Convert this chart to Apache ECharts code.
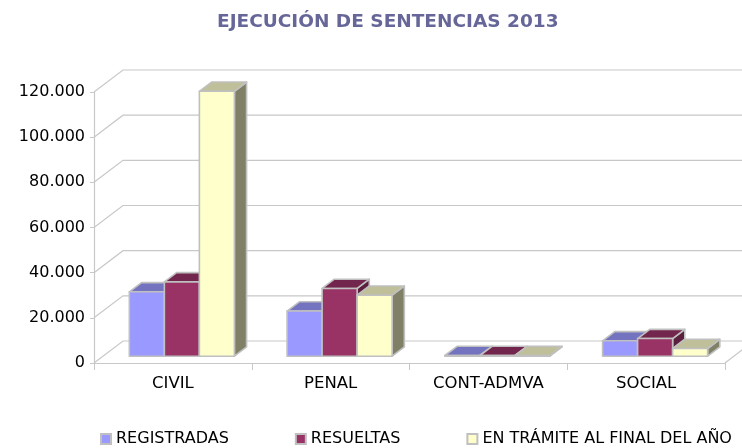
<!DOCTYPE html>
<html>
<head>
<meta charset="utf-8">
<script src="https://cdn.jsdelivr.net/npm/echarts@6/dist/echarts.min.js"></script>
<style>
  html, body { margin: 0; padding: 0; background: #fff; }
  #chart { width: 742px; height: 448px; }
</style>
</head>
<body>
<div id="chart"></div>
<script>
// datos
var categorias = ['CIVIL', 'PENAL', 'CONT-ADMVA', 'SOCIAL'];
var registradas = [28500, 20000, 300, 6800];
var resueltas = [32900, 30000, 300, 7800];
var enTramite = [117300, 27000, 250, 3400];
var yTicks = [0, 20000, 40000, 60000, 80000, 100000, 120000];

// profundidad del "3D"
var DX = 29, DY = -22;
var FRONT = 0.31;   // donde empieza la cara frontal de las barras
var DEPTH = 0.42;   // fondo de cada barra

var caras = [
    { front: '#9999FF', top: '#7373BF', side: '#4D4D80' },
    { front: '#993366', top: '#73264D', side: '#5C1F3D' },
    { front: '#FFFFCC', top: '#BFBF99', side: '#808066' }
];

function miles(v) {
    return String(v).replace(/\B(?=(\d{3})+(?!\d))/g, '.');
}

function barra(serieIdx) {
    return function (params, api) {
        var idx = api.value(0);
        var base = api.coord([idx, 0]);
        var top = api.coord([idx, api.value(1)]);
        var band = api.size([1, 0])[0];
        var w = band * 0.222;
        var fx = DX * FRONT, fy = DY * FRONT;
        var dx = DX * DEPTH, dy = DY * DEPTH;
        var x = base[0] + fx + (serieIdx - 1.5) * w;
        var yb = base[1] + fy;
        var yt = top[1] + fy;
        var c = caras[serieIdx];
        var borde = { stroke: '#C0C0C0', lineWidth: 1.6, lineJoin: 'round' };
        return {
            type: 'group',
            children: [
                {
                    type: 'polygon',
                    shape: { points: [[x + w, yt], [x + w + dx, yt + dy], [x + w + dx, yb + dy], [x + w, yb]] },
                    style: Object.assign({ fill: c.side }, borde)
                },
                {
                    type: 'polygon',
                    shape: { points: [[x, yt], [x + w, yt], [x + w + dx, yt + dy], [x + dx, yt + dy]] },
                    style: Object.assign({ fill: c.top }, borde)
                },
                {
                    type: 'rect',
                    shape: { x: x, y: yt, width: w, height: yb - yt },
                    style: Object.assign({ fill: c.front }, borde)
                }
            ]
        };
    };
}

// paredes y suelo
function pared(params, api) {
    var v = api.value(0);
    var x0 = params.coordSys.x;
    var x1 = x0 + params.coordSys.width;
    var y = api.coord([0, v])[1];
    var estilo = { stroke: '#C8C8C8', lineWidth: 1.2, fill: null };
    var hijos = [{
        type: 'polyline',
        shape: { points: [[x0, y], [x0 + DX, y + DY], [x1 + DX, y + DY]] },
        style: estilo
    }];
    if (v === 0) {
        hijos.push({
            type: 'line',
            shape: { x1: x1, y1: y, x2: x1 + DX, y2: y + DY },
            style: estilo
        });
    }
    return { type: 'group', children: hijos };
}

var chart = echarts.init(document.getElementById('chart'));

var option = {
    animation: false,
    textStyle: { fontFamily: 'DejaVu Sans' },
    title: {
        text: 'EJECUCIÓN DE SENTENCIAS 2013',
        left: 212,
        top: 8,
        textStyle: { fontSize: 18.5, fontWeight: 'bold', color: '#666699', fontFamily: 'DejaVu Sans' }
    },
    legend: {
        left: 95,
        top: 426,
        width: 645,
        padding: [5, 0, 5, 5],
        icon: 'rect',
        itemWidth: 10,
        itemHeight: 10,
        itemGap: 66,
        textStyle: { fontSize: 16, color: '#000' },
        data: ['REGISTRADAS', 'RESUELTAS', 'EN TRÁMITE AL FINAL DEL AÑO']
    },
    grid: { left: 94, right: 17, top: 92, bottom: 85 },
    xAxis: {
        type: 'category',
        data: categorias,
        boundaryGap: true,
        axisLine: { lineStyle: { color: '#C8C8C8', width: 1.2 } },
        axisTick: { show: true, length: 7, lineStyle: { color: '#C8C8C8' } },
        axisLabel: { fontSize: 16.5, color: '#000', margin: 12 }
    },
    yAxis: {
        type: 'value',
        min: 0,
        max: 120000,
        interval: 20000,
        axisLine: { show: true, lineStyle: { color: '#C8C8C8', width: 1.2 } },
        axisTick: { show: true, length: 4, lineStyle: { color: '#C8C8C8' } },
        splitLine: { show: false },
        axisLabel: { fontSize: 16, color: '#000', margin: 9, formatter: miles }
    },
    series: [
        {
            type: 'custom',
            name: 'pared',
            renderItem: pared,
            data: yTicks.map(function (v) { return [v]; }),
            encode: { y: 0 },
            silent: true,
            z: 1
        },
        {
            type: 'custom',
            name: 'REGISTRADAS',
            renderItem: barra(0),
            itemStyle: { color: caras[0].front, borderColor: '#C0C0C0', borderWidth: 1 },
            data: registradas.map(function (v, i) { return [i, v]; }),
            encode: { x: 0, y: 1 },
            z: 2
        },
        {
            type: 'custom',
            name: 'RESUELTAS',
            renderItem: barra(1),
            itemStyle: { color: caras[1].front, borderColor: '#C0C0C0', borderWidth: 1 },
            data: resueltas.map(function (v, i) { return [i, v]; }),
            encode: { x: 0, y: 1 },
            z: 3
        },
        {
            type: 'custom',
            name: 'EN TRÁMITE AL FINAL DEL AÑO',
            renderItem: barra(2),
            itemStyle: { color: caras[2].front, borderColor: '#C0C0C0', borderWidth: 1 },
            data: enTramite.map(function (v, i) { return [i, v]; }),
            encode: { x: 0, y: 1 },
            z: 4
        }
    ]
};

chart.setOption(option);
</script>
</body>
</html>
